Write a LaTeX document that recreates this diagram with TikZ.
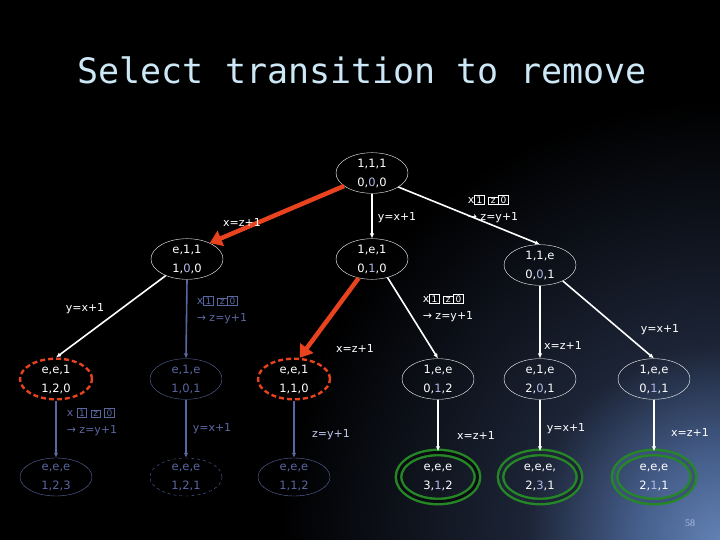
\documentclass[tikz,border=0pt]{standalone}
\usepackage{fontspec}
\setmainfont{DejaVu Sans}
\newfontfamily\titlefont{DejaVu Sans Mono}
\newfontfamily\numfont{Liberation Serif}
\usetikzlibrary{shapes.geometric,arrows.meta,positioning}
\definecolor{slate}{RGB}{98,130,180}
\definecolor{slatehi}{RGB}{68,92,136}
\definecolor{slatemid}{RGB}{28,36,54}
\definecolor{dimblue}{RGB}{90,102,160}
\definecolor{lav}{RGB}{180,188,232}
\definecolor{hot}{RGB}{232,66,30}
\definecolor{keep}{RGB}{38,135,38}
\definecolor{ttl}{RGB}{204,232,246}
\definecolor{bgA}{RGB}{10,12,18}
\definecolor{bgB}{RGB}{28,36,54}
\definecolor{bgC}{RGB}{60,82,122}
\pgfdeclareradialshading{glow}{\pgfpoint{0bp}{0bp}}{color(0bp)=(slate); color(5bp)=(slatehi); color(11bp)=(slatemid); color(25bp)=(black); color(50bp)=(black)}
\newcommand{\gbox}[1]{{\fboxsep=0.8pt\fboxrule=0.6pt\fbox{\makebox[7.5pt]{\fontsize{9}{9}\selectfont #1}}}}
\newcommand{\md}[1]{\textcolor{lav}{#1}}
\tikzset{
  state/.style={ellipse, draw=white, thin, text=white, minimum width=72pt,
    minimum height=38pt, inner sep=0pt, align=center,
    font=\fontsize{11.5}{19}\selectfont},
  dimstate/.style={state, draw=dimblue, text=dimblue},
  cut/.style={state, draw=hot, line width=2.4pt, dash pattern=on 5pt off 3pt},
  goal/.style={state, minimum width=79pt, minimum height=49pt, draw=keep,
    line width=2.4pt, double=#1, double distance=3pt},
  edge/.style={draw=white, line width=1.6pt, -{Latex[length=5pt,width=4.5pt]}},
  dimedge/.style={edge, draw=dimblue},
  cutarrow/.style={draw=hot, line width=4.5pt, -{Triangle[length=12pt,width=16pt]}},
  lab/.style={text=white, inner sep=1pt, font=\fontsize{11}{17}\selectfont},
  dimlab/.style={lab, text=dimblue}
}
\begin{document}
\begin{tikzpicture}[x=1pt,y=-1pt]
  % background
  \fill[black] (0,0) rectangle (720,540);
  \begin{scope}
    \clip (0,0) rectangle (720,540);
    \shade[shading=glow] (720,540) circle (440);
  \end{scope}
  \useasboundingbox (0,0) rectangle (720,540);

  \node[text=ttl, font=\titlefont\fontsize{35}{35}\selectfont] (title) at (362,70) {Select transition to remove};

  % states
  \node[state] (r) at (372,173) {1,1,1\\0,\md{0},0};
  \node[state] (a) at (187,259) {e,1,1\\1,\md{0},0};
  \node[state] (b) at (372,259) {1,e,1\\0,\md{1},0};
  \node[state] (c) at (540,265) {1,1,e\\0,\md{0},1};
  \node[cut] (aa) at (56,379) {e,e,1\\1,2,0};
  \node[dimstate] (ab) at (186,379) {e,1,e\\1,0,1};
  \node[cut] (ba) at (294,379) {e,e,1\\1,1,0};
  \node[state] (bb) at (438,379) {1,e,e\\0,\md{1},2};
  \node[state] (ca) at (540,379) {e,1,e\\2,\md{0},1};
  \node[state] (cb) at (654,379) {1,e,e\\0,\md{1},1};
  \node[dimstate] (aaa) at (56,477) {e,e,e\\1,2,3};
  \node[dimstate, dashed] (aba) at (186,477) {e,e,e\\1,2,1};
  \node[dimstate] (baa) at (294,477) {e,e,e\\1,1,2};
  \node[goal=bgA] (bba) at (438,477) {e,e,e\\3,\md{1},2};
  \node[goal=bgB] (caa) at (540,477) {e,e,e,\\2,\md{3},1};
  \node[goal=bgC] (cba) at (654,477) {e,e,e\\2,\md{1},1};

  % transitions
  \draw[cutarrow] (r.205) -- (a.35);
  \draw[edge] (r.south) -- (b.north);
  \draw[edge] (r.-28) -- (c.north);
  \draw[edge] (a.218) -- (aa.north);
  \draw[dimedge] (a.south) -- (ab.north);
  \draw[cutarrow] (b.235) -- (ba.75);
  \draw[edge] (b.-50) -- (bb.north);
  \draw[edge] (c.south) -- (ca.north);
  \draw[edge] (c.-35) -- (cb.north);
  \draw[dimedge] (aa.south) -- (aaa.north);
  \draw[dimedge] (ab.south) -- (aba.north);
  \draw[dimedge] (ba.south) -- (baa.north);
  \draw[edge] (bb.south) -- (bba.north);
  \draw[edge] (ca.south) -- (caa.north);
  \draw[edge] (cb.south) -- (cba.north);

  % labels
  \node[lab] (l1) at (242,222) {x=z+1};
  \node[lab] (l2) at (397,218) {y=x+1};
  \node[lab, align=left] (l3) at (493,209) {x\gbox{1} \gbox{z}\gbox{0}\\→ z=y+1};
  \node[lab] (l4) at (85,309) {y=x+1};
  \node[dimlab, align=left] (l5) at (222,310) {x\gbox{1} \gbox{z}\gbox{0}\\→ z=y+1};
  \node[lab, align=left] (l6) at (448,308) {x\gbox{1} \gbox{z}\gbox{0}\\→ z=y+1};
  \node[lab] (l7) at (355,348) {x=z+1};
  \node[lab] (l8) at (563,345) {x=z+1};
  \node[lab] (l9) at (660,330) {y=x+1};
  \node[dimlab, align=left] (l10) at (92,422) {x \gbox{1} \gbox{z} \gbox{0}\\→ z=y+1};
  \node[dimlab] (l11) at (212,429) {y=x+1};
  \node[lab, text=lav!80!white] (l12) at (331,435) {z=y+1};
  \node[lab] (l13) at (476,435) {x=z+1};
  \node[lab] (l14) at (566,429) {y=x+1};
  \node[lab] (l15) at (690,432) {x=z+1};

  \node[text=lav, font=\numfont\fontsize{10}{10}\selectfont] (pg) at (690,523) {58};
\end{tikzpicture}
\end{document}
